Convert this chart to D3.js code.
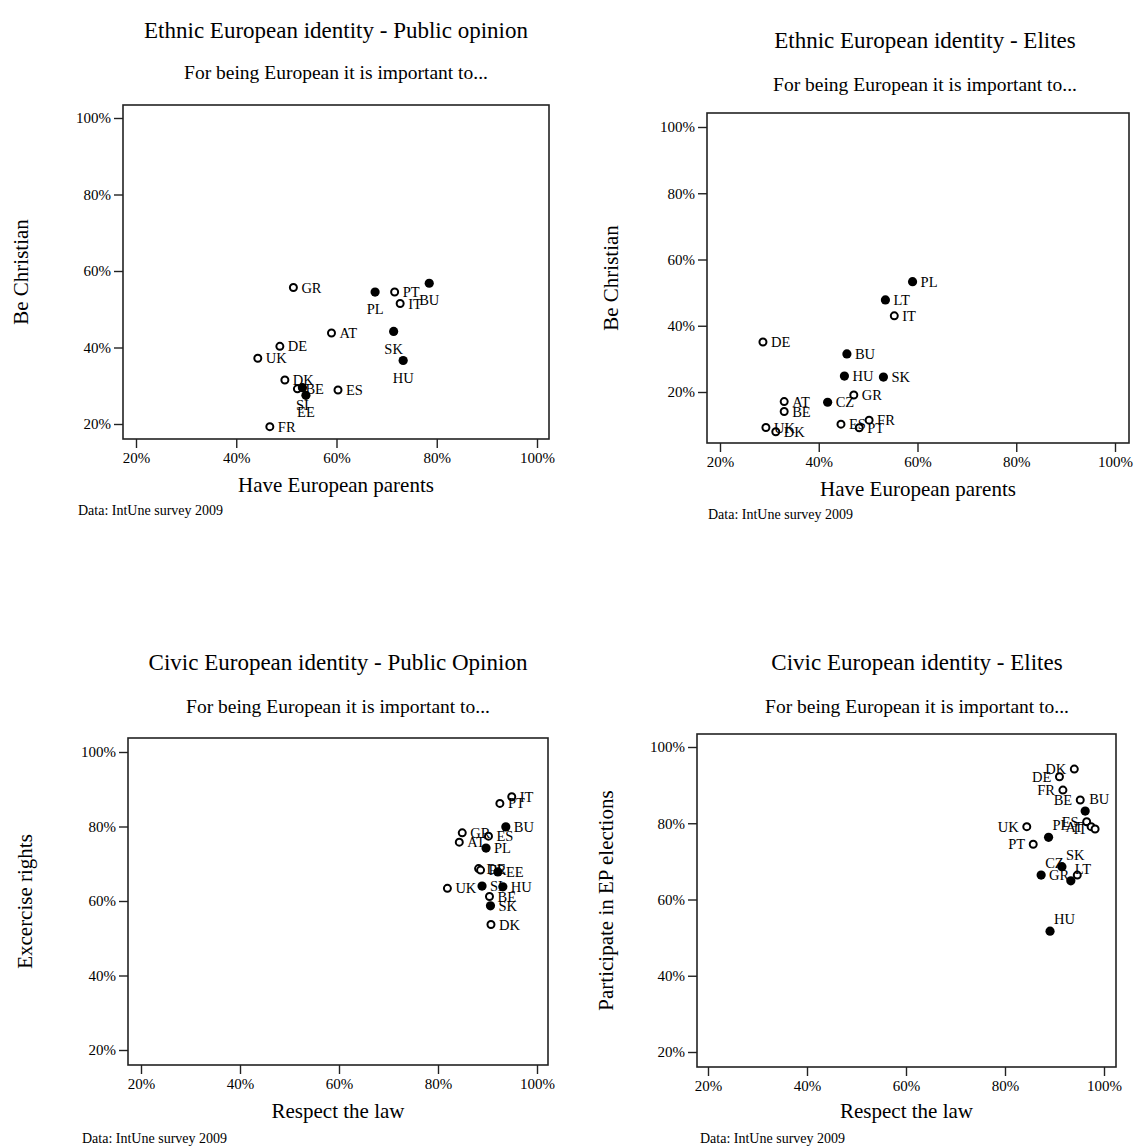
<!DOCTYPE html>
<html><head><meta charset="utf-8">
<script src="https://cdn.jsdelivr.net/npm/d3@7"></script>
<style>
body{margin:0;background:#fff}
svg{display:block}
text{font-family:"Liberation Serif","Times New Roman",serif;fill:#000}
</style>
</head><body>
<svg id="chart" width="1134" height="1148"></svg>
<script>
// ---------- data ----------
const tickValues = [20, 40, 60, 80, 100];
const newMembers = ["BU", "CZ", "EE", "HU", "LT", "PL", "SI", "SK"]; // drawn as filled dots
const sourceNote = "Data: IntUne survey 2009";
const subtitleText = "For being European it is important to...";

// Panel 1: Ethnic - Public opinion
const p1Countries = ["GR","PL","PT","BU","IT","AT","SK","HU","DE","UK","DK","BE","SI","EE","ES","FR"];
const p1Parents   = [51.4,67.7,71.6,78.5,72.7,59.0,71.4,73.3,48.7,44.3,49.7,52.2,53.2,53.9,60.3,46.7];
const p1Christian = [55.7,54.5,54.5,56.8,51.5,43.8,44.2,36.6,40.3,37.2,31.5,29.2,29.5,27.5,28.9,19.3];

// Panel 2: Ethnic - Elites
const p2Countries = ["PL","LT","IT","DE","BU","HU","SK","GR","CZ","AT","BE","UK","DK","ES","FR","PT"];
const p2Parents   = [59.0,53.5,55.3,28.7,45.7,45.2,53.1,47.1,41.8,33.0,33.0,29.3,31.3,44.5,50.2,48.2];
const p2Christian = [53.3,47.8,43.0,35.1,31.5,24.8,24.5,19.1,16.9,17.1,14.1,9.3,8.0,10.3,11.5,9.2];

// Panel 3: Civic - Public opinion
const p3Countries = ["IT","PT","BU","GR","ES","AT","PL","DE","FR","EE","SI","HU","BE","SK","DK","UK"];
const p3Law       = [94.9,92.5,93.7,84.9,90.2,84.3,89.7,88.2,88.6,92.1,88.9,93.1,90.4,90.6,90.7,81.9];
const p3Rights    = [88.0,86.2,79.9,78.3,77.4,75.8,74.2,68.7,68.3,67.8,64.0,63.8,61.2,58.7,53.7,63.4];

// Panel 4: Civic - Elites
const p4Countries = ["DK","DE","FR","BE","BU","ES","AT","IT","UK","PL","PT","SK","CZ","GR","LT","HU"];
const p4Law       = [94.0,91.0,91.7,95.2,96.2,96.5,97.4,98.2,84.4,88.8,85.7,91.5,87.3,94.6,93.3,89.1];
const p4Elections = [94.2,92.2,88.7,86.1,83.2,80.4,79.1,78.5,79.1,76.3,74.5,68.6,66.4,66.4,64.9,51.7];

// ---------- layout ----------
const panels = [
  { title: "Ethnic European identity - Public opinion", xTitle: "Have European parents", yTitle: "Be Christian",
    names: p1Countries, xs: p1Parents, ys: p1Christian,
    px: [136, 537], py: [424, 118], box: [123, 549, 105, 439],
    titleX: 336, titleY: 30, subY: 72, xTitleY: 485, yTitleX: 21, noteX: 78, noteY: 510,
    pos: { PL: 6, SK: 6, HU: 6, BU: 6, SI: 6, EE: 6 } },
  { title: "Ethnic European identity - Elites", xTitle: "Have European parents", yTitle: "Be Christian",
    names: p2Countries, xs: p2Parents, ys: p2Christian,
    px: [720, 1115], py: [392, 127], box: [707, 1129, 113, 443],
    titleX: 925, titleY: 40, subY: 84, xTitleY: 489, yTitleX: 611, noteX: 708, noteY: 514,
    pos: {} },
  { title: "Civic European identity - Public Opinion", xTitle: "Respect the law", yTitle: "Excercise rights",
    names: p3Countries, xs: p3Law, ys: p3Rights,
    px: [141, 537], py: [1050, 752], box: [128, 548, 738, 1065],
    titleX: 338, titleY: 662, subY: 706, xTitleY: 1111, yTitleX: 25, noteX: 82, noteY: 1138,
    pos: {} },
  { title: "Civic European identity - Elites", xTitle: "Respect the law", yTitle: "Participate in EP elections",
    names: p4Countries, xs: p4Law, ys: p4Elections,
    px: [708, 1104], py: [1052, 747], box: [697, 1116, 734, 1067],
    titleX: 917, titleY: 662, subY: 706, xTitleY: 1111, yTitleX: 606, noteX: 700, noteY: 1138,
    pos: { DK: 9, DE: 9, FR: 9, BE: 9, ES: 9, AT: 9, IT: 9, UK: 9, PT: 9, GR: 9,
           BU: 1, PL: 1, SK: 1, CZ: 1, LT: 1, HU: 1 } }
];

const svg = d3.select("#chart");
svg.append("rect").attr("width", 1134).attr("height", 1148).attr("fill", "#fff");

panels.forEach(p => {
  const g = svg.append("g");
  const [bx0, bx1, by0, by1] = p.box;
  const x = d3.scaleLinear().domain([20, 100]).range(p.px);
  const y = d3.scaleLinear().domain([20, 100]).range(p.py);

  g.append("text").attr("x", p.titleX).attr("y", p.titleY).attr("dy", "0.35em")
    .attr("text-anchor", "middle").style("font-size", "23px").text(p.title);
  g.append("text").attr("x", p.titleX).attr("y", p.subY).attr("dy", "0.35em")
    .attr("text-anchor", "middle").style("font-size", "19.5px").text(subtitleText);

  // axes
  const xAxis = d3.axisBottom(x).tickValues(tickValues).tickFormat(d => d + "%").tickSize(9).tickPadding(4);
  const yAxis = d3.axisLeft(y).tickValues(tickValues).tickFormat(d => d + "%").tickSize(9).tickPadding(3);
  const gx = g.append("g").attr("transform", `translate(0,${by1})`).call(xAxis);
  const gy = g.append("g").attr("transform", `translate(${bx0},0)`).call(yAxis);
  [gx, gy].forEach(a => {
    a.select(".domain").remove();
    a.selectAll(".tick line").attr("stroke", "#222").attr("stroke-width", 1.4);
    a.selectAll(".tick text").style("font-size", "15px").style("font-family", '"Liberation Serif",serif').attr("fill", "#000");
  });

  // plot box
  g.append("rect").attr("x", bx0).attr("y", by0).attr("width", bx1 - bx0).attr("height", by1 - by0)
    .attr("fill", "none").attr("stroke", "#222").attr("stroke-width", 1.6);

  // axis titles
  g.append("text").attr("x", (bx0 + bx1) / 2).attr("y", p.xTitleY).attr("dy", "0.35em")
    .attr("text-anchor", "middle").style("font-size", "21px").text(p.xTitle);
  g.append("text").attr("transform", `translate(${p.yTitleX},${(by0 + by1) / 2}) rotate(-90)`)
    .attr("dy", "0.35em").attr("text-anchor", "middle").style("font-size", "21px").text(p.yTitle);

  g.append("text").attr("x", p.noteX).attr("y", p.noteY).attr("dy", "0.35em")
    .style("font-size", "14px").text(sourceNote);

  // points
  const pts = p.names.map((n, i) => ({ n, vx: p.xs[i], vy: p.ys[i], filled: newMembers.includes(n) }));
  g.selectAll("circle.pt").data(pts).join("circle").attr("class", "pt")
    .attr("cx", d => x(d.vx)).attr("cy", d => y(d.vy))
    .attr("r", d => d.filled ? 4.6 : 3.5)
    .attr("fill", d => d.filled ? "#000" : "#fff")
    .attr("stroke", "#000").attr("stroke-width", d => d.filled ? 0 : 2);

  g.selectAll("text.lab").data(pts).join("text").attr("class", "lab")
    .style("font-size", "14.5px")
    .each(function (d) {
      const pos = p.pos[d.n] || 3;
      const cx = x(d.vx), cy = y(d.vy);
      const t = d3.select(this).attr("dy", "0.35em");
      if (pos === 3) t.attr("x", cx + 8).attr("y", cy).attr("text-anchor", "start");
      else if (pos === 9) t.attr("x", cx - 8).attr("y", cy).attr("text-anchor", "end");
      else if (pos === 6) t.attr("x", cx).attr("y", cy + 17).attr("text-anchor", "middle");
      else if (pos === 1) t.attr("x", cx + 4).attr("y", cy - 12).attr("text-anchor", "start");
    })
    .text(d => d.n);
});
</script>
</body></html>
